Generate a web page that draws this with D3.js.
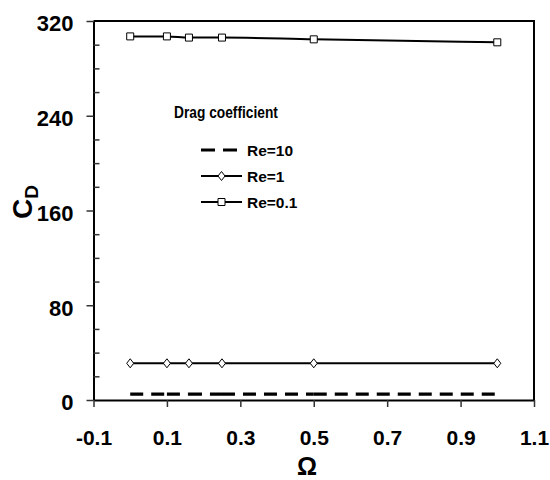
<!DOCTYPE html>
<html>
<head>
<meta charset="utf-8">
<script src="https://cdn.jsdelivr.net/npm/d3@7"></script>
<style>
  body { margin: 0; background: #fff; }
  text { font-family: "Liberation Sans", Arial, sans-serif; font-weight: bold; fill: #000; }
</style>
</head>
<body>
<div id="vis"></div>
<script>
// frame
const FRAME_WIDTH = 550;
const FRAME_HEIGHT = 480;
const MARGINS = {left: 93.5, right: 16, top: 21, bottom: 80};
const VIS_WIDTH = FRAME_WIDTH - MARGINS.left - MARGINS.right;
const VIS_HEIGHT = FRAME_HEIGHT - MARGINS.top - MARGINS.bottom;

// data
const OMEGA = [0, 0.1, 0.16, 0.25, 0.5, 1.0];
const CD_RE10 = [5, 5, 5, 5, 5, 5];
const CD_RE1 = [31, 31, 31, 31, 31, 31];
const CD_RE01 = [307, 307, 306, 306, 304.5, 302];

const X_TICKS = [-0.1, 0.1, 0.3, 0.5, 0.7, 0.9, 1.1];
const X_TICK_LABELS = ["-0.1", "0.1", "0.3", "0.5", "0.7", "0.9", "1.1"];
const Y_TICKS = [0, 80, 160, 240, 320];
const Y_MINOR = [20, 40, 60, 100, 120, 140, 180, 200, 220, 260, 280, 300];

const LEGEND_TITLE = "Drag coefficient";
const SERIES_NAMES = ["Re=10", "Re=1", "Re=0.1"];

const FRAME = d3.select("#vis")
                .append("svg")
                  .attr("width", FRAME_WIDTH)
                  .attr("height", FRAME_HEIGHT);

const X_SCALE = d3.scaleLinear().domain([-0.1, 1.1]).range([0, VIS_WIDTH]);
const Y_SCALE = d3.scaleLinear().domain([0, 320]).range([VIS_HEIGHT, 0]);

const G = FRAME.append("g")
               .attr("transform", "translate(" + MARGINS.left + "," + MARGINS.top + ")");

// box (top + right)
G.append("path")
  .attr("d", "M0,0H" + VIS_WIDTH + "V" + VIS_HEIGHT)
  .attr("fill", "none").attr("stroke", "#000").attr("stroke-width", 2);

// y axis, major ticks outward
const yAxis = G.append("g")
  .call(d3.axisLeft(Y_SCALE).tickValues(Y_TICKS).tickSize(7).tickSizeOuter(0).tickPadding(13));
// y minor ticks inward
G.append("g")
  .call(d3.axisRight(Y_SCALE).tickValues(Y_MINOR).tickSize(6).tickSizeOuter(0).tickFormat(""))
  .select(".domain").remove();

// x axis
const xAxis = G.append("g")
  .attr("transform", "translate(0," + VIS_HEIGHT + ")")
  .call(d3.axisBottom(X_SCALE).tickValues(X_TICKS).tickSize(7).tickSizeOuter(0).tickPadding(23)
          .tickFormat((d, i) => X_TICK_LABELS[i]));

G.selectAll(".domain").attr("stroke-width", 2).attr("stroke", "#000");
G.selectAll(".tick line").attr("stroke", "#333").attr("stroke-width", 1.5);
yAxis.selectAll("text").attr("font-size", 22).attr("dy", "0.45em");
xAxis.selectAll("text").attr("font-size", 21);
G.selectAll(".tick text").style("font-family", "'Liberation Sans', Arial, sans-serif").style("font-weight", "bold");

// series
const LINE = d3.line().x(d => X_SCALE(d[0])).y(d => Y_SCALE(d[1]));
const SMOOTH = d3.line().curve(d3.curveMonotoneX).x(d => X_SCALE(d[0])).y(d => Y_SCALE(d[1]));

const re10 = OMEGA.map((x, i) => [x, CD_RE10[i]]);
const re1 = OMEGA.map((x, i) => [x, CD_RE1[i]]);
const re01 = OMEGA.map((x, i) => [x, CD_RE01[i]]);

// dashed: pattern restarts at each point
for (let i = 0; i < re10.length - 1; i++) {
  G.append("path")
    .attr("d", LINE([re10[i], re10[i + 1]]))
    .attr("fill", "none").attr("stroke", "#000")
    .attr("stroke-width", 3.2).attr("stroke-dasharray", "13,8");
}

G.append("path").attr("d", LINE(re1))
  .attr("fill", "none").attr("stroke", "#000").attr("stroke-width", 2);
G.append("path").attr("d", SMOOTH(re01))
  .attr("fill", "none").attr("stroke", "#000").attr("stroke-width", 2);

function diamond(sel) {
  sel.attr("d", "M0,-4.5L3.5,0L0,4.5L-3.5,0Z")
     .attr("fill", "#fff").attr("stroke", "#000").attr("stroke-width", 1);
}
function square(sel) {
  sel.attr("d", "M-3.5,-3.5H3.5V3.5H-3.5Z")
     .attr("fill", "#fff").attr("stroke", "#000").attr("stroke-width", 1);
}

G.selectAll(".dia").data(re1).enter().append("path")
  .attr("class", "dia")
  .attr("transform", d => "translate(" + X_SCALE(d[0]) + "," + Y_SCALE(d[1]) + ")")
  .call(diamond);
G.selectAll(".sq").data(re01).enter().append("path")
  .attr("class", "sq")
  .attr("transform", d => "translate(" + X_SCALE(d[0]) + "," + Y_SCALE(d[1]) + ")")
  .call(square);

// legend
FRAME.append("text").attr("transform", "translate(174,118) scale(0.86,1)")
  .attr("font-size", 16).text(LEGEND_TITLE);
const LEG_Y = [150, 176, 202];
const LX0 = 201, LX1 = 242;
FRAME.append("line").attr("x1", LX0).attr("x2", LX1).attr("y1", LEG_Y[0]).attr("y2", LEG_Y[0])
  .attr("stroke", "#000").attr("stroke-width", 3.2).attr("stroke-dasharray", "14,8");
[1, 2].forEach(k => {
  FRAME.append("line").attr("x1", LX0).attr("x2", LX1).attr("y1", LEG_Y[k]).attr("y2", LEG_Y[k])
    .attr("stroke", "#000").attr("stroke-width", 2);
  FRAME.append("path")
    .attr("transform", "translate(" + (LX0 + LX1) / 2 + "," + LEG_Y[k] + ")")
    .call(k === 1 ? diamond : square);
});
SERIES_NAMES.forEach((s, k) => {
  FRAME.append("text").attr("x", 247).attr("y", LEG_Y[k] + 5.5).attr("font-size", 15.5).text(s);
});

// axis titles
FRAME.append("text").attr("x", 307).attr("y", 475).attr("text-anchor", "middle")
  .attr("font-size", 25).text("Ω");
const yt = FRAME.append("text")
  .attr("transform", "translate(32,202) rotate(-90)")
  .attr("text-anchor", "middle").attr("font-size", 28);
yt.append("tspan").text("C");
yt.append("tspan").attr("font-size", 19).attr("dy", 6).text("D");
</script>
</body>
</html>
